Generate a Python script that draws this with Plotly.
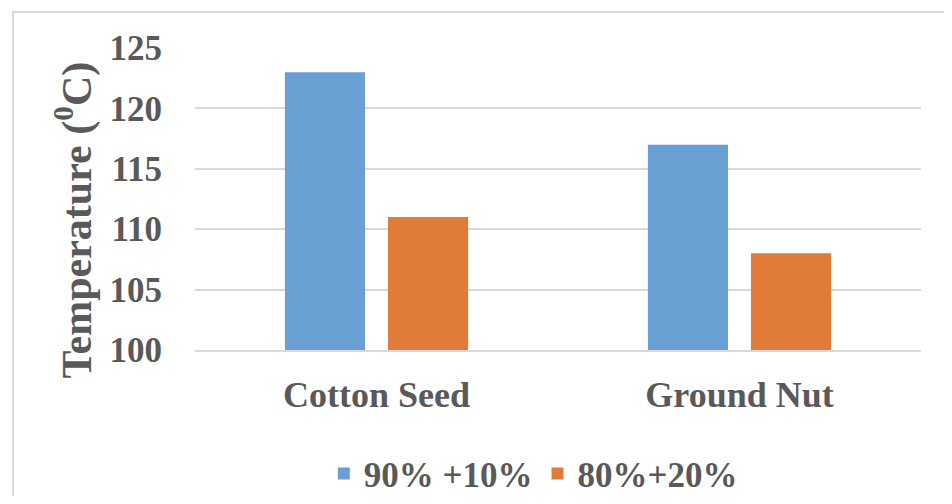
import plotly.graph_objects as go

categories = ["Cotton Seed", "Ground Nut"]
blend_90_10 = [123, 117]
blend_80_20 = [111, 108]
y_ticks = [100, 105, 110, 115, 120, 125]

font_main = "Liberation Serif"
text_col = "#595959"

fig = go.Figure(data=[
    go.Bar(name="90% +10%", x=categories, y=blend_90_10, marker_color="#6a9fd4", marker_line_width=0),
    go.Bar(name="80%+20%", x=categories, y=blend_80_20, marker_color="#e07b39", marker_line_width=0),
])

# page body has an 8px margin, so the figure is 16px smaller than the window
# autoexpand off so the legend can't push the plot area up
fig.update_layout(
    width=936, height=488,
    barmode="group", bargap=0.432, bargroupgap=0.223,
    plot_bgcolor="white", paper_bgcolor="white",
    margin=dict(l=187, r=23, t=40, b=146, autoexpand=False),
    font=dict(family=font_main, color=text_col),
    legend=dict(orientation="h", x=0.466, xanchor="center", y=-0.41, yanchor="middle",
                font=dict(size=35, family=font_main, color=text_col, weight="bold"),
                itemwidth=30, traceorder="normal"),
    shapes=[dict(type="rect", xref="paper", yref="paper", x0=-0.2507, x1=1.2, y0=-0.6, y1=1.119,
                 line=dict(color="#d9d9d9", width=2), layer="below")],
    annotations=[dict(text="Temperature (<sup>0</sup>C)", textangle=-90, showarrow=False,
                      xref="paper", yref="paper", x=-0.166, y=0.43, xanchor="center", yanchor="middle",
                      font=dict(size=42, family=font_main, color=text_col, weight="bold"))],
)
fig.update_yaxes(
    range=[100, 125], tickvals=y_ticks, showgrid=True, gridcolor="#d9d9d9", gridwidth=2,
    zeroline=False, showline=False, automargin=False,
    tickfont=dict(size=35, family=font_main, color=text_col, weight="bold"),
    ticklabelstandoff=32,
)
fig.update_xaxes(
    showline=True, linecolor="#d9d9d9", linewidth=2, showgrid=False, automargin=False,
    tickfont=dict(size=36, family=font_main, color=text_col, weight="bold"),
    ticklabelstandoff=12,
)

fig.write_html("out.html")
